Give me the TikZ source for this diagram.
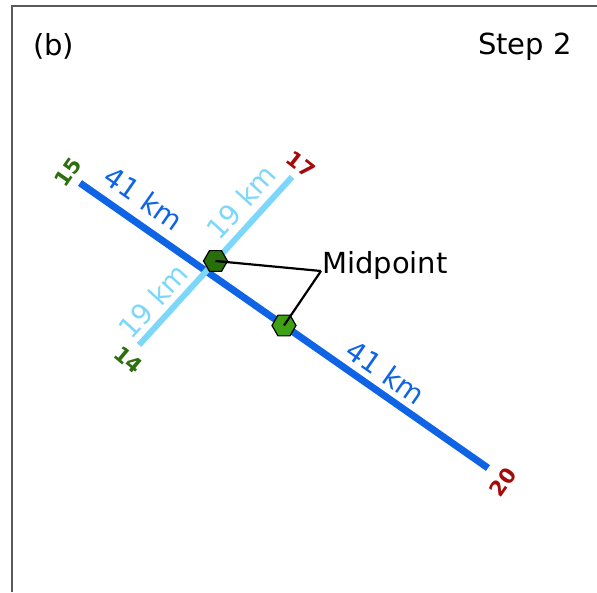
\documentclass[tikz,border=0pt]{standalone}
\usepackage{fontspec}
\setmainfont{DejaVu Sans}
\usetikzlibrary{shapes.geometric,calc}
\definecolor{dblue}{RGB}{14,100,228}
\definecolor{lblue}{RGB}{125,215,250}
\definecolor{hexdark}{RGB}{40,110,10}
\definecolor{hexlight}{RGB}{62,160,20}
\definecolor{lblgreen}{RGB}{45,110,15}
\definecolor{lblred}{RGB}{165,10,10}
\definecolor{framegray}{RGB}{90,90,90}
\tikzset{
  bigtext/.style={font=\fontsize{29}{32}\selectfont, inner sep=0pt},
  kmtext/.style={font=\fontsize{28}{30}\selectfont, inner sep=0pt},
  numtext/.style={font=\bfseries\fontsize{21}{23}\selectfont, inner sep=0pt},
  darkline/.style={draw=dblue, line width=7pt},
  lightline/.style={draw=lblue, line width=6pt},
  hexmark/.style={regular polygon, regular polygon sides=6, minimum size=24pt, inner sep=0pt, draw=black, line width=1.2pt},
  pointer/.style={draw=black, line width=2.2pt}
}
\begin{document}
\begin{tikzpicture}[x=1pt,y=1pt]
\useasboundingbox (0,0) rectangle (597,-592);
% frame
\draw[framegray, line width=2pt] (11.5,-592) -- (11.5,-5.5) -- (597,-5.5);
% titles
\node[bigtext, anchor=base west] (tb) at (33,-55) {(b)};
\node[bigtext, anchor=base east] (ts) at (572,-54) {Step 2};
% end points
\coordinate (p15) at (80,-183);
\coordinate (p20) at (488,-468);
\coordinate (p14) at (139,-345);
\coordinate (p17) at (292,-177);
% lines
\draw[darkline] (p15) -- (p20);
\draw[lightline] (p14) -- (p17);
% distance labels
\node[kmtext, text=dblue, rotate=-34.9] (k1) at (144,-198) {41 km};
\node[kmtext, text=dblue, rotate=-34.9] (k2) at (386,-372) {41 km};
\node[kmtext, text=lblue, rotate=47.7] (k3) at (241,-202) {19 km};
\node[kmtext, text=lblue, rotate=47.7] (k4) at (153,-301) {19 km};
% end labels
\node[numtext, text=lblgreen, rotate=55] (n15) at (68,-172) {15};
\node[numtext, text=lblred, rotate=55] (n20) at (503,-482) {20};
\node[numtext, text=lblred, rotate=-38] (n17) at (301,-164) {17};
\node[numtext, text=lblgreen, rotate=-40] (n14) at (128.5,-360) {14};
% midpoints
\node[hexmark, fill=hexdark] (h1) at ($(p14)!0.5!(p17)$) {};
\node[hexmark, fill=hexlight] (h2) at ($(p15)!0.5!(p20)$) {};
% label
\node[bigtext, anchor=base west] (mid) at (322,-273) {Midpoint};
\coordinate (mp) at (321,-271);
\draw[pointer] (h1.center) -- (mp);
\draw[pointer] (h2.center) -- (mp);
\end{tikzpicture}
\end{document}
